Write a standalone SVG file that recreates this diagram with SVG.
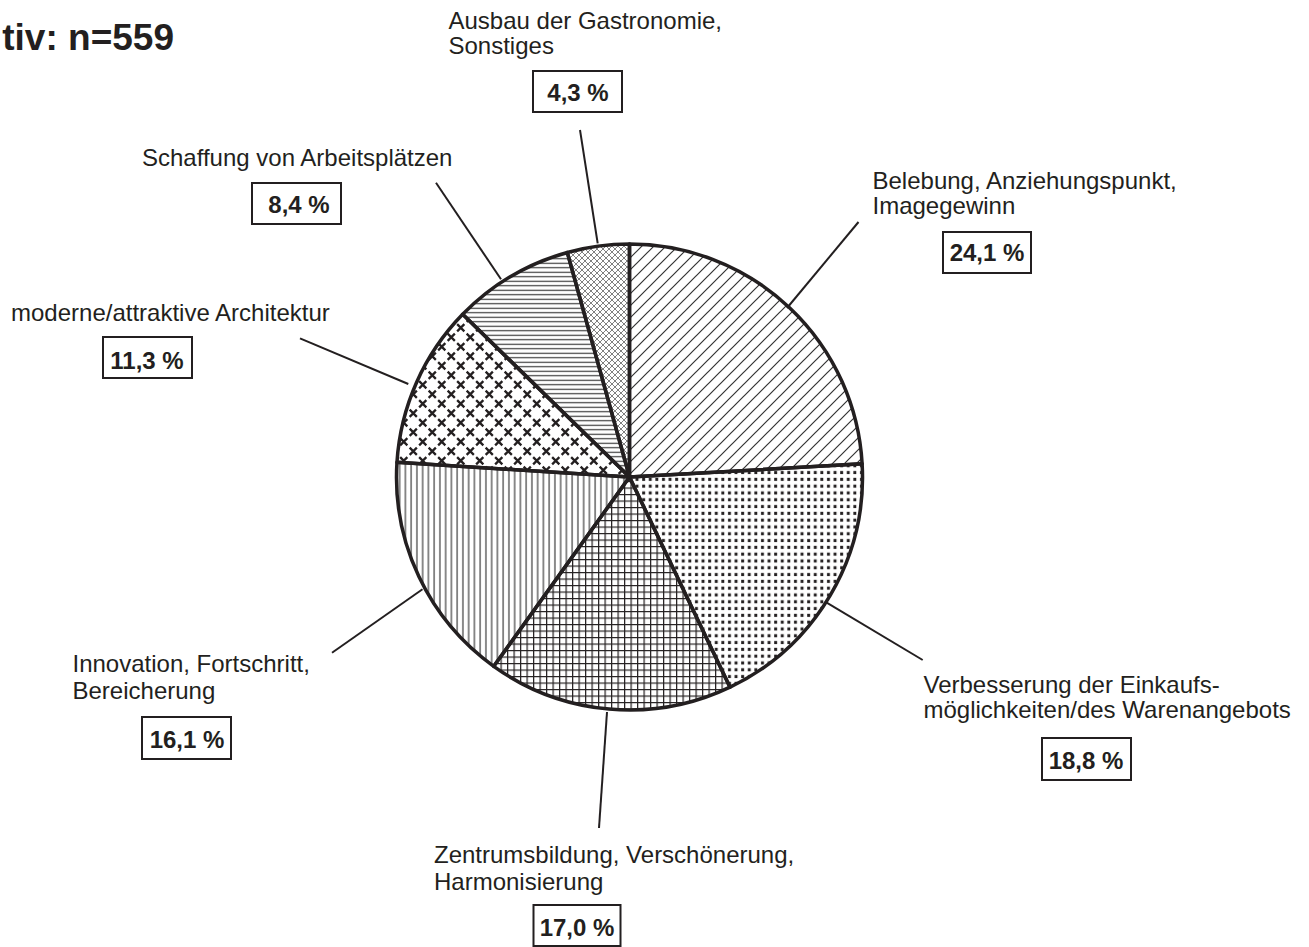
<svg xmlns="http://www.w3.org/2000/svg" width="1309" height="947" viewBox="0 0 1309 947">
<style>
.lbl{font-family:"Liberation Sans",Arial,Helvetica,sans-serif;font-size:24px;fill:#231f20}
.pct{font-family:"Liberation Sans",Arial,Helvetica,sans-serif;font-size:24px;font-weight:bold;fill:#231f20;text-anchor:middle}
.box{fill:#fff;stroke:#231f20;stroke-width:2}
.slice{stroke:#231f20;stroke-width:3.5;stroke-linejoin:round}
.lead{stroke:#231f20;stroke-width:2;fill:none}
</style>
<defs>
<pattern id="p-diag" patternUnits="userSpaceOnUse" width="12" height="12">
<path d="M-3,3 L3,-3 M0,12 L12,0 M9,15 L15,9" stroke="#333" stroke-width="1.2"/>
</pattern>
<pattern id="p-dots" patternUnits="userSpaceOnUse" width="6.6" height="6.8">
<rect x="2" y="1.8" width="2.9" height="3.1" fill="#231f20"/>
</pattern>
<pattern id="p-grid" patternUnits="userSpaceOnUse" width="6.5" height="6.5">
<path d="M0,0.6 H6.5 M0.6,0 V6.5" stroke="#231f20" stroke-width="1.25"/>
</pattern>
<pattern id="p-vert" patternUnits="userSpaceOnUse" width="5.75" height="10">
<path d="M2.9,0 V10" stroke="#333" stroke-width="1.15"/>
</pattern>
<pattern id="p-x" patternUnits="userSpaceOnUse" width="19" height="19">
<path d="M1.15,1.15 L8.35,8.35 M8.35,1.15 L1.15,8.35 M10.65,10.65 L17.85,17.85 M17.85,10.65 L10.65,17.85" stroke="#231f20" stroke-width="2.3"/>
</pattern>
<pattern id="p-horiz" patternUnits="userSpaceOnUse" width="10" height="4.5">
<path d="M0,2.25 H10" stroke="#333" stroke-width="1.15"/>
</pattern>
<pattern id="p-cross" patternUnits="userSpaceOnUse" width="6" height="6">
<path d="M0,0 L6,6 M6,0 L0,6" stroke="#555" stroke-width="0.75"/>
</pattern>
</defs>
<rect width="1309" height="947" fill="#fff"/>

<text x="174" y="50" font-family="Liberation Sans,Arial,sans-serif" font-size="37" font-weight="bold" fill="#231f20" text-anchor="end">tiv: n=559</text>

<g id="connectors">
<line class="lead" x1="858.5" y1="222" x2="787" y2="308"/>
<line class="lead" x1="825" y1="601.7" x2="922.7" y2="660"/>
<line class="lead" x1="607" y1="712" x2="599" y2="828"/>
<line class="lead" x1="332" y1="652.7" x2="422.5" y2="589.3"/>
<line class="lead" x1="300" y1="338.3" x2="408.3" y2="384"/>
<line class="lead" x1="436" y1="182.7" x2="501" y2="279.3"/>
<line class="lead" x1="580" y1="130" x2="597.7" y2="243.3"/>
</g>

<g id="pie">
<path id="slice-belebung" class="slice" fill="url(#p-diag)" d="M629.5,477 L629.5,244 A233,233 0 0 1 862.13,463.83 Z"/>
<path id="slice-verbesserung" class="slice" fill="url(#p-dots)" d="M629.5,477 L862.13,463.83 A233,233 0 0 1 730.02,687.2 Z"/>
<path id="slice-zentrum" class="slice" fill="url(#p-grid)" d="M629.5,477 L730.02,687.2 A233,233 0 0 1 493.73,666.35 Z"/>
<path id="slice-innovation" class="slice" fill="url(#p-vert)" d="M629.5,477 L493.73,666.35 A233,233 0 0 1 396.96,462.37 Z"/>
<path id="slice-architektur" class="slice" fill="url(#p-x)" d="M629.5,477 L396.96,462.37 A233,233 0 0 1 462.67,314.34 Z"/>
<path id="slice-arbeitsplaetze" class="slice" fill="url(#p-horiz)" d="M629.5,477 L462.67,314.34 A233,233 0 0 1 567.31,252.45 Z"/>
<path id="slice-gastronomie" class="slice" fill="url(#p-cross)" d="M629.5,477 L567.31,252.45 A233,233 0 0 1 629.5,244 Z"/>
</g>

<g id="label-gastronomie">
<text class="lbl" x="448.5" y="29">Ausbau der Gastronomie,</text>
<text class="lbl" x="448.5" y="53.5">Sonstiges</text>
<rect class="box" x="533" y="71" width="89" height="41"/>
<text class="pct" x="578" y="101">4,3 %</text>
</g>

<g id="label-arbeitsplaetze">
<text class="lbl" x="142" y="166">Schaffung von Arbeitsplätzen</text>
<rect class="box" x="252" y="183" width="89" height="41"/>
<text class="pct" x="299" y="213">8,4 %</text>
</g>

<g id="label-architektur">
<text class="lbl" x="11" y="320.5">moderne/attraktive Architektur</text>
<rect class="box" x="103" y="337" width="89" height="41"/>
<text class="pct" x="147" y="368.5">11,3 %</text>
</g>

<g id="label-belebung">
<text class="lbl" x="872.5" y="189">Belebung, Anziehungspunkt,</text>
<text class="lbl" x="872.5" y="214">Imagegewinn</text>
<rect class="box" x="943" y="232" width="88" height="41"/>
<text class="pct" x="987" y="261">24,1 %</text>
</g>

<g id="label-verbesserung">
<text class="lbl" x="923.5" y="693">Verbesserung der Einkaufs-</text>
<text class="lbl" x="923.5" y="718">möglichkeiten/des Warenangebots</text>
<rect class="box" x="1042" y="738" width="89" height="42"/>
<text class="pct" x="1086" y="769">18,8 %</text>
</g>

<g id="label-innovation">
<text class="lbl" x="72.5" y="672">Innovation, Fortschritt,</text>
<text class="lbl" x="72.5" y="699">Bereicherung</text>
<rect class="box" x="142" y="717" width="89" height="42"/>
<text class="pct" x="187" y="748">16,1 %</text>
</g>

<g id="label-zentrum">
<text class="lbl" x="434" y="863">Zentrumsbildung, Verschönerung,</text>
<text class="lbl" x="434" y="890">Harmonisierung</text>
<rect class="box" x="533.5" y="905" width="87" height="41"/>
<text class="pct" x="577" y="936">17,0 %</text>
</g>
</svg>
